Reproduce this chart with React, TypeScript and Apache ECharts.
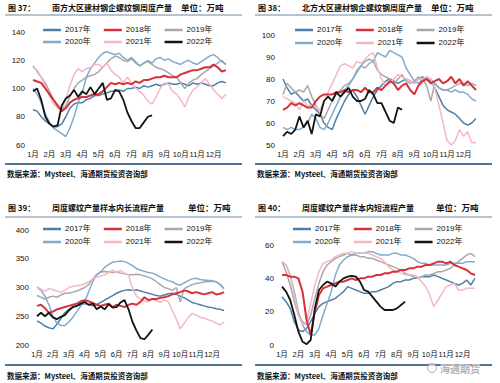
import React, { useEffect, useRef } from 'react';
import * as echarts from 'echarts';

const MONTH_LABELS = ['1月', '2月', '3月', '4月', '5月', '6月', '7月', '8月', '9月', '10月', '11月', '12月'];
const YEARS = ['2017年', '2018年', '2019年', '2020年', '2021年', '2022年'];
const COLORS = ['#4d7fa9', '#d7313b', '#a8a8a8', '#82aacb', '#f5b8c1', '#141414'];
const WIDTHS = [1.5, 2, 1.5, 1.5, 1.5, 1.8];
const ZS = [2, 4, 2, 2, 2, 5];
const SOURCE = '数据来源：Mysteel、海通期货投资咨询部';

// Panel 37: south
const south2017 = [85,84,80,77, 75,73,73,75, 80,86,89,90, 90,92,93,95, 95,96,97,98, 98,99,98,100, 100,101,100,102, 101,102,103,102, 103,104,103,103, 104,103,102,104, 103,104,103,102, 102,104,105,104];
const south2018 = [106,105,104,100, 96,92,88,84, 86,90,92,93, 94,94,95,96, 96,98,101,104, 103,104,103,104, 103,105,104,106, 106,107,108,108, 109,108,108,108, 110,111,112,113, 113,114,115,115, 117,115,112,113];
const south2019 = [116,112,108,104, 98,92,87,85, 88,94,100,104, 106,108,109,110, 112,115,118,121, 123,122,120,119, 121,118,116,118, 119,117,115,114, 113,111,109,108, 104,100,104,106, 107,110,112,114, 116,118,120,117];
const south2020 = [100,96,90,82, 76,72,70,68, 66,72,80,90, 97,108,114,118, 122,125,126,125, 124,125,122,120, 122,119,116,118, 120,118,121,122, 120,121,119,118, 117,119,120,118, 117,119,121,123, 124,122,119,117];
const south2021 = [115,113,108,102, 95,89,86,86, 92,102,110,114, 112,114,115,117, 117,115,118,113, 110,108,104,108, 104,100,98,95, 91,89,94,100, 104,103,98,96, 92,87,94,99, 101,104,107,103, 99,96,93,96];
const south2022 = [98,100,92,80, 75,73,74,88, 93,95,99,94, 98,96,101,96, 100,104,92,93, 99,98,92,83, 77,72,72,76, 80,81];

// Panel 38: north
const north2017 = [80,76,73,74, 72,70,71,68, 66,64,60,58, 57,62,66,70, 73,75,72,68, 64,68,72,75, 77,79,80,79, 78,79,80,79, 78,80,81,80, 79,76,72,68, 66,65,64,62, 60,59,60,62];
const north2018 = [66,67,69,68, 69,68,67,67, 70,72,73,73, 73,74,74,75, 74,75,75,74, 76,74,74,76, 75,77,79,78, 75,77,78,75, 73,77,79,80, 78,79,80,78, 79,81,78,80, 77,79,77,75];
const north2019 = [73,78,76,74, 75,74,77,72, 68,64,62,66, 70,73,75,77, 78,80,84,86, 85,87,88,84, 82,81,80,78, 80,82,79,78, 79,81,80,77, 70,78,76,75, 75,76,77,78, 78,77,78,77];
const north2020 = [58,57,58,57, 57,58,60,64, 62,58,57,60, 64,68,72,75, 77,80,83,86, 88,89,88,92, 91,90,93,92, 91,90,85,82, 79,78,80,81, 80,78,76,75, 75,74,75,74, 74,73,71,70];
const north2021 = [72,71,70,69, 66,70,68,68, 67,66,70,74, 78,82,86,87, 86,85,88,87, 89,91,92,85, 80,77,78,80, 82,81,80,79, 78,80,80,81, 80,76,68,60, 52,50,52,57, 54,56,51,51];
const north2022 = [54,56,55,57, 63,58,61,55, 64,63,70,72, 70,74,72,74, 76,72,70,70, 71,75,73,69, 69,65,61,60, 67,66];

// Panel 39: long process
const long2017 = [242,238,233,230, 228,236,246,256, 262,266,268,270, 272,270,268,270, 274,278,282,286, 290,293,295,296, 295,296,294,292, 290,288,286,285, 287,289,290,288, 285,282,278,274, 272,270,268,266, 265,263,262,260];
const long2018 = [268,270,264,256, 258,262,264,266, 268,270,272,276, 278,276,273,270, 268,270,272,266, 270,268,266,270, 272,270,275,283, 278,280,280,282, 283,285,288,290, 292,295,293,290, 292,290,288,290, 292,288,289,292];
const long2019 = [286,283,280,283, 285,283,287,290, 290,292,294,297, 300,305,315,322, 327,328,327,326, 327,325,324,322, 322,323,322,320, 318,315,310,305, 300,298,295,300, 275,298,302,305, 307,308,310,310, 311,310,306,298];
const long2020 = [301,295,285,270, 250,238,234,234, 240,248,258,268, 275,293,310,322, 327,335,340,344, 345,346,345,342, 338,333,330,328, 326,325,322,318, 315,312,310,306, 304,308,312,315, 316,314,313,312, 312,310,305,298];
const long2021 = [301,297,293,298, 296,294,292,295, 300,302,303,304, 306,310,315,318, 320,322,326,330, 326,330,325,322, 298,285,280,276, 275,280,277,274, 278,275,260,245, 228,238,248,255, 252,248,247,244, 242,238,235,240];
const long2022 = [250,256,250,256, 248,245,249,252, 260,266,268,272, 275,270,272,262, 267,262,271,265, 266,274,278,262, 240,225,212,210, 218,227];

// Panel 40: short process
const short2017 = [29,26,22,14, 9,8,10,14, 19,23,25,26, 27,28,30,32, 35,34,33,32, 31,31,32,32, 33,34,35,37, 38,38,39,39, 40,40,41,41, 41,42,41,40, 39,38,37,36, 37,39,36,40];
const short2018 = [42,42,41,41, 40,32,15,6, 20,30,34,35, 36,37,38,38, 39,40,39,40, 40,41,41,42, 42,43,43,44, 44,45,45,46, 46,47,47,48, 48,49,50,50, 49,50,48,47, 46,45,43,42];
const short2019 = [50,44,36,26, 18,14,12,18, 28,37,44,48, 50,52,53,54, 55,54,54,53, 53,52,52,51, 50,49,48,47, 46,45,43,42, 41,40,41,42, 42,43,44,44, 45,46,48,50, 52,54,55,53];
const short2020 = [50,48,42,32, 20,12,8,6, 6,10,18,25, 32,42,48,51, 53,54,55,55, 55,56,56,55, 54,54,54,55, 55,54,54,53, 52,50,49,49, 48,48,48,48, 48,49,49,49, 49,50,50,50];
const short2021 = [50,48,42,30, 18,12,14,25, 36,44,49,50, 51,53,54,55, 55,56,55,55, 55,55,54,53, 52,50,47,45, 44,43,42,42, 42,41,38,35, 30,23,27,31, 35,36,37,33, 33,34,34,34];
const short2022 = [35,32,27,18, 8,2,0.5,3, 22,33,36,38, 37,35,38,40, 41,41.5,41,38, 33,32,29,26, 23,21,21,21, 22,24,26];

const FONT = "'Liberation Sans', 'Noto Sans CJK SC', Arial, sans-serif";
const CJK = "'Noto Sans CJK SC', sans-serif";

type PanelCfg = {
  num: string;
  sub: string;
  unitX: number;
  left: number;
  top: number;
  height: number;
  titleY: number;
  ruleY: number;
  legendTops: number[];
  legendLeft: number;
  grid: { left: number; right: number; top: number; bottom: number };
  yMin: number;
  yMax: number;
  yInterval: number;
  bottomRuleY: number;
  sourceY: number;
  data: number[][];
  watermark?: boolean;
};

const PANELS: PanelCfg[] = [
  {
    num: '图 37：', sub: '南方大区建材钢企螺纹钢周度产量', unitX: 181,
    left: 0, top: 0, height: 192, titleY: 7, ruleY: 15, legendTops: [26, 38], legendLeft: 43,
    grid: { left: 33, right: 20, top: 32, bottom: 47 }, yMin: 60, yMax: 140, yInterval: 20,
    bottomRuleY: 164, sourceY: 173,
    data: [south2017, south2018, south2019, south2020, south2021, south2022],
  },
  {
    num: '图 38：', sub: '北方大区建材钢企螺纹钢周度产量', unitX: 181,
    left: 250, top: 0, height: 192, titleY: 7, ruleY: 15, legendTops: [26, 39], legendLeft: 45,
    grid: { left: 33, right: 20, top: 35, bottom: 47 }, yMin: 50, yMax: 100, yInterval: 10,
    bottomRuleY: 164, sourceY: 173,
    data: [north2017, north2018, north2019, north2020, north2021, north2022],
  },
  {
    num: '图 39：', sub: '周度螺纹产量样本内长流程产量', unitX: 188,
    left: 0, top: 192, height: 191, titleY: 15, ruleY: 25, legendTops: [33, 46], legendLeft: 43,
    grid: { left: 37, right: 22, top: 38, bottom: 38 }, yMin: 200, yMax: 400, yInterval: 50,
    bottomRuleY: 173, sourceY: 183,
    data: [long2017, long2018, long2019, long2020, long2021, long2022],
  },
  {
    num: '图 40：', sub: '周度螺纹产量样本内短流程产量', unitX: 186,
    left: 250, top: 192, height: 191, titleY: 15, ruleY: 25, legendTops: [33, 46], legendLeft: 43,
    grid: { left: 32, right: 21, top: 53, bottom: 38 }, yMin: 0, yMax: 60, yInterval: 20,
    bottomRuleY: 173, sourceY: 183,
    data: [short2017, short2018, short2019, short2020, short2021, short2022],
    watermark: true,
  },
];

function buildOption(cfg: PanelCfg): any {
  const legendCommon = {
    left: cfg.legendLeft,
    orient: 'horizontal',
    icon: 'rect',
    itemWidth: 18,
    itemHeight: 2.5,
    itemGap: 13,
    padding: 0,
    textStyle: { fontSize: 8, color: '#111', fontFamily: FONT, padding: [0, 0, 0, -1] },
  };
  const graphic: any[] = [
    { type: 'text', x: 8, y: cfg.titleY, style: { text: cfg.num, font: `bold 8px ${CJK}`, fill: '#111', verticalAlign: 'middle' } },
    { type: 'text', x: 52, y: cfg.titleY, style: { text: cfg.sub, font: `bold 8px ${CJK}`, fill: '#111', verticalAlign: 'middle' } },
    { type: 'text', x: cfg.unitX, y: cfg.titleY, style: { text: '单位：万吨', font: `bold 8.5px ${CJK}`, fill: '#111', verticalAlign: 'middle' } },
    { type: 'line', shape: { x1: 5, y1: cfg.ruleY, x2: 242, y2: cfg.ruleY }, style: { stroke: '#6d86a0', lineWidth: 1 } },
    { type: 'line', shape: { x1: 5, y1: cfg.bottomRuleY, x2: 242, y2: cfg.bottomRuleY }, style: { stroke: '#56738f', lineWidth: 2 } },
    { type: 'text', x: 7, y: cfg.sourceY, style: { text: SOURCE, font: `bold 7.5px ${CJK}`, fill: '#111', verticalAlign: 'middle' } },
  ];
  if (cfg.watermark) {
    graphic.push(
      { type: 'circle', shape: { cx: 182, cy: 176, r: 4.5 }, style: { fill: 'rgba(255,255,255,0.6)', stroke: 'rgba(140,140,140,0.7)', lineWidth: 1 }, z: 100 },
      { type: 'text', x: 190, y: 176.5, z: 100, style: { text: '海通期货', font: `bold 10px ${CJK}`, fill: 'rgba(150,150,150,0.75)', stroke: 'rgba(255,255,255,0.8)', lineWidth: 1, verticalAlign: 'middle' } },
    );
  }
  return {
    animation: false,
    backgroundColor: '#ffffff',
    legend: [
      { ...legendCommon, top: cfg.legendTops[0], data: YEARS.slice(0, 3) },
      { ...legendCommon, top: cfg.legendTops[1], data: YEARS.slice(3) },
    ],
    grid: { ...cfg.grid, containLabel: false },
    xAxis: {
      type: 'value',
      min: 0,
      max: 12,
      interval: 1,
      axisLine: { show: false },
      axisTick: { show: false },
      splitLine: { show: false },
      axisLabel: {
        fontSize: 7.5,
        color: '#111',
        fontFamily: FONT,
        margin: 6,
        showMaxLabel: false,
        formatter: (v: number) => (v >= 0 && v < 12 ? MONTH_LABELS[v] : ''),
      },
    },
    yAxis: {
      type: 'value',
      min: cfg.yMin,
      max: cfg.yMax,
      interval: cfg.yInterval,
      axisLine: { show: false },
      axisTick: { show: false },
      splitLine: { show: false },
      axisLabel: { fontSize: 8, color: '#111', fontFamily: FONT, margin: 8 },
    },
    graphic,
    series: YEARS.map((name, k) => ({
      name,
      type: 'line',
      showSymbol: false,
      symbol: 'none',
      z: ZS[k],
      color: COLORS[k],
      lineStyle: { color: COLORS[k], width: WIDTHS[k] },
      data: cfg.data[k].map((v, i) => [i * 0.25, v]),
    })),
  };
}

function Panel({ cfg }: { cfg: PanelCfg }) {
  const ref = useRef<HTMLDivElement>(null);
  useEffect(() => {
    if (!ref.current) return;
    const chart = echarts.init(ref.current, undefined, { renderer: 'svg' });
    chart.setOption(buildOption(cfg));
    return () => chart.dispose();
  }, [cfg]);
  return (
    <div
      ref={ref}
      style={{ position: 'absolute', left: cfg.left, top: cfg.top, width: 250, height: cfg.height }}
    />
  );
}

export default function App() {
  return (
    <div style={{ position: 'absolute', left: 0, top: 0, width: 500, height: 383, background: '#fff', overflow: 'hidden' }}>
      {PANELS.map((p) => (
        <Panel key={p.num} cfg={p} />
      ))}
    </div>
  );
}
